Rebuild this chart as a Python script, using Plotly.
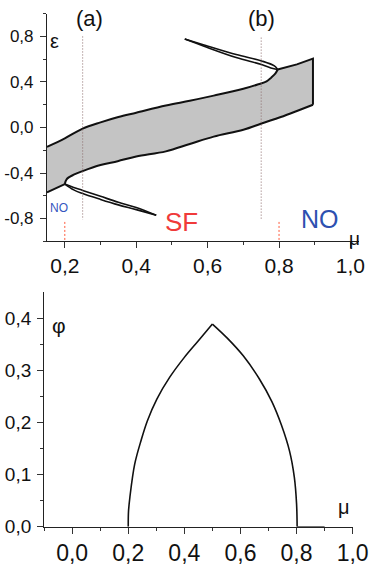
import plotly.graph_objects as go

# ---- top panel data (epsilon vs mu) ----
band_upper_mu = [0.15, 0.2, 0.25, 0.3, 0.35, 0.4, 0.483, 0.55, 0.617, 0.7, 0.742, 0.765, 0.778, 0.79, 0.796]
band_upper_eps = [-0.17, -0.095, -0.01, 0.045, 0.092, 0.13, 0.193, 0.235, 0.28, 0.34, 0.38, 0.405, 0.438, 0.475, 0.51]
band_right_mu = [0.796, 0.85, 0.895, 0.895]
band_right_eps = [0.51, 0.555, 0.605, 0.2]
band_lower_mu = [0.895, 0.85, 0.805, 0.751, 0.7, 0.617, 0.55, 0.483, 0.4, 0.348, 0.3, 0.25, 0.225, 0.205, 0.2]
band_lower_eps = [0.2, 0.145, 0.092, 0.035, -0.02, -0.08, -0.145, -0.21, -0.255, -0.296, -0.33, -0.383, -0.415, -0.455, -0.497]
band_left_mu = [0.2, 0.15]
band_left_eps = [-0.497, -0.57]

tail_up_outer_mu = [0.796, 0.787, 0.751, 0.68, 0.59, 0.536]
tail_up_outer_eps = [0.51, 0.541, 0.585, 0.641, 0.726, 0.777]
tail_up_inner_mu = [0.796, 0.783, 0.751, 0.68, 0.59, 0.536]
tail_up_inner_eps = [0.51, 0.518, 0.553, 0.615, 0.714, 0.777]

tail_lo_outer_mu = [0.2, 0.225, 0.25, 0.3, 0.35, 0.4, 0.456]
tail_lo_outer_eps = [-0.497, -0.548, -0.58, -0.632, -0.68, -0.722, -0.772]
tail_lo_inner_mu = [0.2, 0.225, 0.25, 0.3, 0.35, 0.4, 0.456]
tail_lo_inner_eps = [-0.497, -0.527, -0.553, -0.605, -0.657, -0.703, -0.772]

marker_a_mu = 0.25
marker_b_mu = 0.75
boundary_mu = [0.2, 0.8]

top_x_ticks = [0.2, 0.4, 0.6, 0.8, 1.0]
top_x_labels = ["0,2", "0,4", "0,6", "0,8", "1,0"]
top_y_ticks = [-0.8, -0.4, 0.0, 0.4, 0.8]
top_y_labels = ["-0,8", "-0,4", "0,0", "0,4", "0,8"]

# ---- bottom panel data (phi vs mu) ----
phi_left_mu = [0.2, 0.201, 0.206, 0.223, 0.246, 0.268, 0.302, 0.348, 0.4, 0.45, 0.5]
phi_left_val = [0.0, 0.03, 0.057, 0.12, 0.166, 0.203, 0.245, 0.287, 0.325, 0.357, 0.389]
phi_right_mu = [0.5, 0.553, 0.61, 0.667, 0.712, 0.746, 0.775, 0.792, 0.8, 0.802]
phi_right_val = [0.389, 0.362, 0.328, 0.284, 0.24, 0.195, 0.145, 0.095, 0.044, 0.0]
flat_mu = [0.802, 0.9]
flat_val = [0.0, 0.0]

bot_x_ticks = [0.0, 0.2, 0.4, 0.6, 0.8, 1.0]
bot_x_labels = ["0,0", "0,2", "0,4", "0,6", "0,8", "1,0"]
bot_y_ticks = [0.0, 0.1, 0.2, 0.3, 0.4]
bot_y_labels = ["0,0", "0,1", "0,2", "0,3", "0,4"]

FONT = "Liberation Sans, Arial, sans-serif"
BLACK = "#111111"

fig = go.Figure()

poly_mu = band_upper_mu + band_right_mu + band_lower_mu + band_left_mu
poly_eps = band_upper_eps + band_right_eps + band_lower_eps + band_left_eps
fig.add_trace(go.Scatter(x=poly_mu, y=poly_eps, fill="toself", fillcolor="#c4c4c4",
                         mode="lines", line=dict(color="rgba(0,0,0,0)", width=0),
                         xaxis="x", yaxis="y", hoverinfo="skip"))

def edge(mx, my, shape, width=2.0, axis=("x", "y")):
    fig.add_trace(go.Scatter(x=mx, y=my, mode="lines",
                             line=dict(color=BLACK, width=width, shape=shape, smoothing=1.0 if shape == "spline" else None),
                             xaxis=axis[0], yaxis=axis[1], hoverinfo="skip"))

edge(band_upper_mu, band_upper_eps, "spline")
edge(band_right_mu, band_right_eps, "linear")
edge(band_lower_mu, band_lower_eps, "spline")
edge(band_left_mu, band_left_eps, "linear")

for mx, my in [(tail_up_outer_mu, tail_up_outer_eps), (tail_up_inner_mu, tail_up_inner_eps),
               (tail_lo_outer_mu, tail_lo_outer_eps), (tail_lo_inner_mu, tail_lo_inner_eps)]:
    edge(mx, my, "spline", width=1.6)

fig.add_trace(go.Scatter(x=[marker_a_mu, marker_a_mu], y=[0.8, -0.81], mode="lines",
                         line=dict(color="#8a6a6a", width=1, dash="1px,2px"), xaxis="x", yaxis="y"))
fig.add_trace(go.Scatter(x=[marker_b_mu, marker_b_mu], y=[0.79, -0.81], mode="lines",
                         line=dict(color="#8a6a6a", width=1, dash="1px,2px"), xaxis="x", yaxis="y"))
for b in boundary_mu:
    fig.add_trace(go.Scatter(x=[b, b], y=[-0.83, -1.0], mode="lines",
                             line=dict(color="#ff5a3c", width=1, dash="2px,2px"), xaxis="x", yaxis="y"))

edge(phi_left_mu, phi_left_val, "spline", width=1.6, axis=("x2", "y2"))
edge(phi_right_mu, phi_right_val, "spline", width=1.6, axis=("x2", "y2"))
fig.add_trace(go.Scatter(x=flat_mu, y=flat_val, mode="lines", line=dict(color="#222222", width=1.0),
                         xaxis="x2", yaxis="y2", hoverinfo="skip", cliponaxis=False))

axis_common = dict(showgrid=False, zeroline=False, showline=True, linecolor="#222222",
                   linewidth=1, ticks="outside", tickcolor="#333333", ticklen=6,
                   tickwidth=1, mirror=False)

fig.update_layout(
    width=384, height=572, autosize=False, margin=dict(l=0, r=0, t=0, b=0, pad=0),
    paper_bgcolor="white", plot_bgcolor="white", showlegend=False,
    font=dict(family=FONT, color="#111111"),
    xaxis=dict(domain=[49/384, 375/384], range=[0.15, 1.025], anchor="y",
               tickvals=top_x_ticks, ticktext=top_x_labels, tickfont=dict(size=21),
               minor=dict(tickvals=[0.3, 0.5, 0.7, 0.9], ticks="outside", ticklen=3,
                          tickcolor="#333333"),
               **axis_common),
    yaxis=dict(domain=[1 - 246/572, 1 - 14/572], range=[-1.0, 1.0], anchor="x",
               tickvals=top_y_ticks, ticktext=top_y_labels, tickfont=dict(size=17),
               ticklabelstandoff=3,
               minor=dict(tickvals=[-1.0, -0.6, -0.2, 0.2, 0.6, 1.0], ticks="outside",
                          ticklen=3, tickcolor="#333333"),
               **axis_common),
    xaxis2=dict(domain=[46/384, 368/384], range=[-0.1, 1.0], anchor="y2",
                tickvals=bot_x_ticks, ticktext=bot_x_labels, tickfont=dict(size=23),
                minor=dict(tickvals=[-0.1, 0.1, 0.3, 0.5, 0.7, 0.9], ticks="outside",
                           ticklen=3, tickcolor="#333333"),
                **axis_common),
    yaxis2=dict(domain=[1 - 537/572, 1 - 298/572], range=[0.0, 0.45], anchor="x2",
                tickvals=bot_y_ticks, ticktext=bot_y_labels, tickfont=dict(size=19),
                ticklabelstandoff=2,
                minor=dict(tickvals=[0.05, 0.15, 0.25, 0.35], ticks="outside",
                           ticklen=3, tickcolor="#333333"),
                **axis_common),
)

def A(x, y, text, size, color="#111111", xref="x", yref="y"):
    return dict(x=x, y=y, xref=xref, yref=yref, text=text, showarrow=False,
                xanchor="center", yanchor="middle", font=dict(size=size, color=color))

ann = [
    A(0.268, 0.955, "(a)", 22),
    A(0.751, 0.955, "(b)", 22),
    A(0.172, 0.76, "ε", 20),
    A(370/384, 1 - 243/572, "μ", 19, xref="paper", yref="paper"),
    A(0.183, -0.705, "NO", 12, "#3456c0"),
    A(0.528, -0.83, "SF", 26, "#f03a3a"),
    A(0.914, -0.8, "NO", 25, "#2d50b0"),
    A(-0.048, 0.387, "φ", 21, xref="x2", yref="y2"),
    A(0.969, 0.037, "μ", 20, xref="x2", yref="y2"),
]
fig.update_layout(annotations=ann)

fig.write_html("out.html", config={"responsive": False, "displayModeBar": False})
